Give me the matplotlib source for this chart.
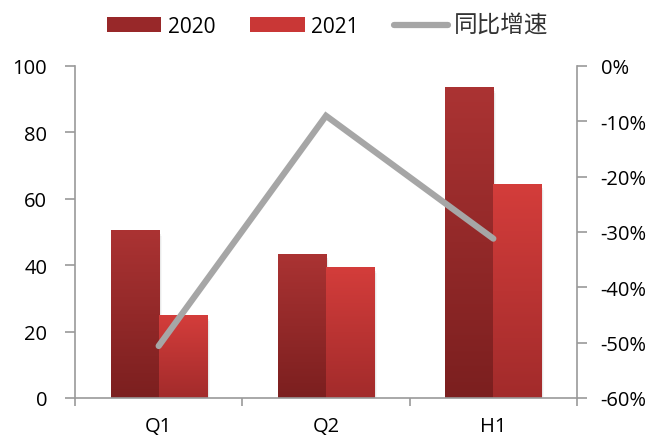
import numpy as np
import matplotlib
matplotlib.use("Agg")
import matplotlib.pyplot as plt
from matplotlib.patches import Patch, Rectangle
from matplotlib.lines import Line2D
from matplotlib.colors import LinearSegmentedColormap

plt.rcParams['font.family'] = ['Open Sans', 'Noto Sans CJK SC', 'DejaVu Sans']

categories = ['Q1', 'Q2', 'H1']
values_2020 = [50.6, 43.4, 93.7]
values_2021 = [25.0, 39.5, 64.5]
growth = [-50.6, -9.0, -31.2]   # 同比增速, %
left_ticks = [0, 20, 40, 60, 80, 100]
right_ticks = [0, -10, -20, -30, -40, -50, -60]

axis_grey = '#9A9A9A'
line_grey = '#A6A6A6'
grad_2020 = ('#AB3333', '#7B1F1F')   # top, bottom
grad_2021 = ('#D43D3B', '#A22B2B')

fig = plt.figure(figsize=(6.51, 4.39), dpi=100)
W, H = 651, 439
ax = fig.add_axes([75 / W, 1 - 399 / H, (577 - 75) / W, (399 - 67) / H])

x = np.arange(len(categories))
bw = 0.287


def gradient_bars(xpos, vals, colors):
    cmap = LinearSegmentedColormap.from_list('g', [colors[1], colors[0]])
    bars = ax.bar(xpos, vals, width=bw, color=colors[0], zorder=2, linewidth=0)
    for b in bars:
        bx, by = b.get_x(), b.get_y()
        bwid, bh = b.get_width(), b.get_height()
        # soft drop shadow
        for k, a in enumerate([0.10, 0.06, 0.03]):
            off = 0.006 * (k + 1)
            ax.add_patch(Rectangle((bx + off, by - 0.6 * (k + 1)), bwid, bh,
                                   color='#000000', alpha=a, lw=0, zorder=1.5))
        grad = np.linspace(0, 1, 256).reshape(-1, 1)
        im = ax.imshow(grad, cmap=cmap, origin='lower', aspect='auto',
                       extent=(bx, bx + bwid, by, by + bh), zorder=2.5)
        im.set_clip_path(b)
    return bars


gradient_bars(x - bw / 2, values_2020, grad_2020)
gradient_bars(x + bw / 2, values_2021, grad_2021)

tick_fs = 14.5
ax.set_xlim(-0.5, len(categories) - 0.5)
ax.set_ylim(0, 100)
ax.set_yticks(left_ticks)
ax.set_yticklabels([str(v) for v in left_ticks], fontsize=tick_fs)
ax.set_xticks(np.arange(-0.5, len(categories), 1.0))
ax.set_xticklabels([])
ax.set_xticks(x, minor=True)
ax.set_xticklabels(categories, minor=True, fontsize=tick_fs)
ax.tick_params(axis='x', which='minor', length=0, pad=13)
ax.tick_params(axis='x', which='major', length=6, width=1.2, color=axis_grey, direction='out')
ax.tick_params(axis='y', length=7, width=1.2, color=axis_grey, direction='out', pad=13)

ax2 = ax.twinx()
ax2.set_ylim(-60, 0)
ax2.set_yticks(right_ticks)
ax2.set_yticklabels([f'{v}%' for v in right_ticks], fontsize=tick_fs)
ax2.tick_params(axis='y', length=7, width=1.2, color=axis_grey, direction='out', pad=10)
ax2.plot(x, growth, color=line_grey, lw=4.5, solid_capstyle='round',
         solid_joinstyle='miter', zorder=5)

for a in (ax, ax2):
    a.spines['top'].set_visible(False)
    for s in ('left', 'right', 'bottom'):
        a.spines[s].set_color(axis_grey)
        a.spines[s].set_linewidth(1.2)
ax.spines['right'].set_visible(False)
ax2.spines['left'].set_visible(False)
ax2.spines['bottom'].set_visible(False)

handles = [Patch(facecolor='#982829', edgecolor='none'),
           Patch(facecolor='#C93736', edgecolor='none'),
           Line2D([0], [0], color=line_grey, lw=4.5, solid_capstyle='round')]
leg = fig.legend(handles, ['2020', '2021', '同比增速'], loc='center',
                 bbox_to_anchor=(328 / W, 1 - 27 / H), ncol=3, frameon=False,
                 fontsize=15, handlelength=2.6, handleheight=0.75,
                 handletextpad=0.3, columnspacing=1.7)
leg.get_texts()[2].set_fontsize(17)
leg.get_texts()[2].set_color('#333333')

fig.savefig('out.png', dpi=100)
